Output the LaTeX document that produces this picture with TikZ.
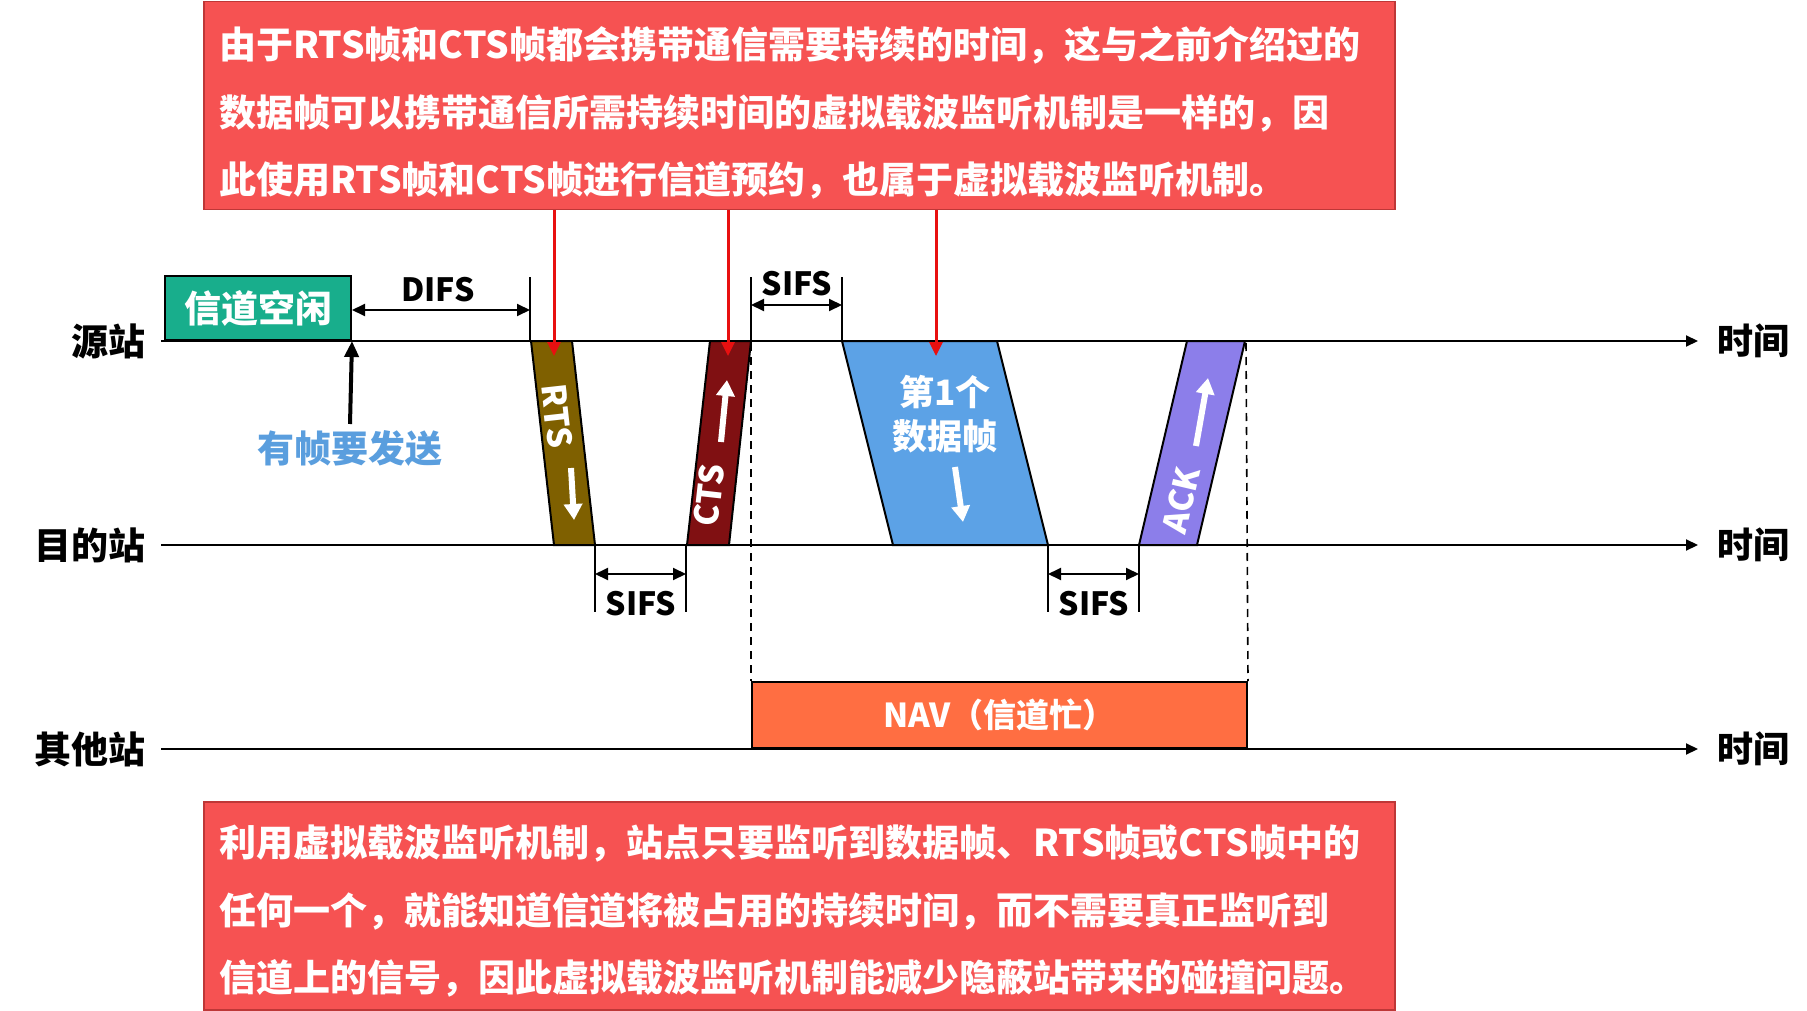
\documentclass[tikz,border=0pt]{standalone}
\usepackage{fontspec}
\setmainfont{Noto Sans CJK SC}
\usetikzlibrary{arrows.meta}
\definecolor{boxred}{RGB}{246,82,82}
\definecolor{boxborder}{RGB}{190,55,55}
\definecolor{idlegreen}{RGB}{24,174,140}
\definecolor{rtscol}{RGB}{127,96,0}
\definecolor{ctscol}{RGB}{128,16,18}
\definecolor{datacol}{RGB}{92,162,230}
\definecolor{ackcol}{RGB}{140,126,234}
\definecolor{navcol}{RGB}{255,110,66}
\definecolor{sendblue}{RGB}{90,158,222}
\definecolor{redline}{RGB}{232,16,16}
\newcommand{\myfs}[1]{\fontsize{#1}{#1}\selectfont}
\begin{document}
\begin{tikzpicture}[x=1pt,y=-1pt,font=\bfseries,
  tl/.style={line width=2pt,-{Triangle[length=12pt,width=11pt]}},
  frame/.style={draw=black,line width=2pt},
  wa/.style={white,line width=6pt,-{Triangle[length=16pt,width=18pt]}},
  dimarr/.style={line width=2pt,{Triangle[length=13pt,width=12pt]}-{Triangle[length=13pt,width=12pt]}},
  tick/.style={line width=2pt},
  redarr/.style={draw=redline,line width=3pt,-{Triangle[length=14pt,width=13pt]},fill=redline},
  infobox/.style={draw=boxborder,fill=boxred,line width=1.5pt,inner sep=0pt,anchor=north west},
  infotext/.style={white,anchor=west,align=left,inner sep=0pt,font=\bfseries\fontsize{37}{67.5}\selectfont},
  stn/.style={anchor=east,inner sep=0pt,font=\bfseries\myfs{37}},
  tm/.style={inner sep=0pt,font=\bfseries\myfs{36}},
  lbl/.style={inner sep=0pt,font=\bfseries\myfs{32}},
  ftext/.style={white,inner sep=0pt,font=\bfseries\myfs{33}}
]
\useasboundingbox (0,0) rectangle (1807,1011);

% top info box
\node[infobox,minimum width=1191,minimum height=208] (topbox) at (203,1) {};
\node[infotext] (toptext) at (219,113) {由于RTS帧和CTS帧都会携带通信需要持续的时间，这与之前介绍过的\\数据帧可以携带通信所需持续时间的虚拟载波监听机制是一样的，因\\此使用RTS帧和CTS帧进行信道预约，也属于虚拟载波监听机制。};

% bottom info box
\node[infobox,minimum width=1191,minimum height=208] (botbox) at (203,801) {};
\node[infotext] (bottext) at (219,911) {利用虚拟载波监听机制，站点只要监听到数据帧、RTS帧或CTS帧中的\\任何一个，就能知道信道将被占用的持续时间，而不需要真正监听到\\信道上的信号，因此虚拟载波监听机制能减少隐蔽站带来的碰撞问题。};

% timelines
\coordinate (s0) at (161,341); \coordinate (s1) at (1698,341);
\coordinate (d0) at (161,545); \coordinate (d1) at (1698,545);
\coordinate (o0) at (161,749); \coordinate (o1) at (1698,749);
\draw[tl] (s0) -- (s1);
\draw[tl] (d0) -- (d1);
\draw[tl] (o0) -- (o1);
\node[stn] (src) at (146,341) {源站};
\node[stn] (dst) at (146,545) {目的站};
\node[stn] (oth) at (146,749) {其他站};
\node[tm] (t1) at (1753,341) {时间};
\node[tm] (t2) at (1753,545) {时间};
\node[tm] (t3) at (1753,749) {时间};

% idle box
\node[draw=black,line width=2pt,fill=idlegreen,minimum width=186,minimum height=64,inner sep=0pt,anchor=south west,text=white,font=\bfseries\myfs{37}] (idle) at (164,341) {信道空闲};

% frame-to-send arrow
\node[text=sendblue,inner sep=0pt,font=\bfseries\myfs{37}] (send) at (350,448) {有帧要发送};
\draw[line width=4pt,-{Triangle[length=16pt,width=14pt]}] (350,424) -- (idle.south east);

% DIFS
\coordinate (difsE) at (530,277);
\draw[tick] (difsE) -- (530,341);
\draw[dimarr] (idle.east |- 0,310) -- (530,310);
\node[lbl] (difs) at (438,290) {DIFS};

% RTS frame
\draw[frame,fill=rtscol] (531,341) -- (572,341) -- (595,545) -- (554,545) -- cycle;
\node[ftext,rotate=-83.6] (rts) at (557,416) {RTS};
\draw[wa] (571,468) -- (574,520);

% CTS frame
\draw[frame,fill=ctscol] (710,341) -- (751,341) -- (729,545) -- (687,545) -- cycle;
\node[ftext,rotate=83.6] (cts) at (709,495) {CTS};
\draw[wa] (721,442) -- (727,380);

% data frame
\draw[frame,fill=datacol] (842,341) -- (997,341) -- (1048,545) -- (893,545) -- cycle;
\node[ftext,align=center,font=\bfseries\fontsize{35}{44}\selectfont] (data) at (945,414) {第1个\\数据帧};
\draw[wa] (955,467) -- (963,522);

% ACK frame
\draw[frame,fill=ackcol] (1187,341) -- (1245,341) -- (1197,545) -- (1139,545) -- cycle;
\node[ftext,rotate=76.8] (ack) at (1181,500) {ACK};
\draw[wa] (1196,446) -- (1208,378);

% top SIFS
\draw[tick] (751,277) -- (751,341);
\draw[tick] (842,277) -- (842,341);
\draw[dimarr] (751,305) -- (842,305);
\node[lbl] (sifs1) at (797,284) {SIFS};

% bottom SIFS 1
\draw[tick] (595,545) -- (595,612);
\draw[tick] (686,545) -- (686,612);
\draw[dimarr] (595,574) -- (686,574);
\node[lbl] (sifs2) at (641,604) {SIFS};

% bottom SIFS 2
\draw[tick] (1048,545) -- (1048,612);
\draw[tick] (1139,545) -- (1139,612);
\draw[dimarr] (1048,574) -- (1139,574);
\node[lbl] (sifs3) at (1094,604) {SIFS};

% NAV
\node[draw=black,line width=2pt,fill=navcol,minimum width=495,minimum height=66,inner sep=0pt,anchor=south west,text=white,font=\bfseries\myfs{33}] (nav) at (751,749) {NAV（信道忙）};
\draw[line width=1.6pt,dash pattern=on 8pt off 6pt] (751,343) -- (nav.north west);
\draw[line width=1.6pt,dash pattern=on 8pt off 6pt] (1246,343) -- (nav.north east);

% red arrows
\coordinate (r1) at (554,356);
\coordinate (r2) at (728,356);
\coordinate (r3) at (936,356);
\draw[redarr] (topbox.south -| r1) -- (r1);
\draw[redarr] (topbox.south -| r2) -- (r2);
\draw[redarr] (topbox.south -| r3) -- (r3);
\end{tikzpicture}
\end{document}
